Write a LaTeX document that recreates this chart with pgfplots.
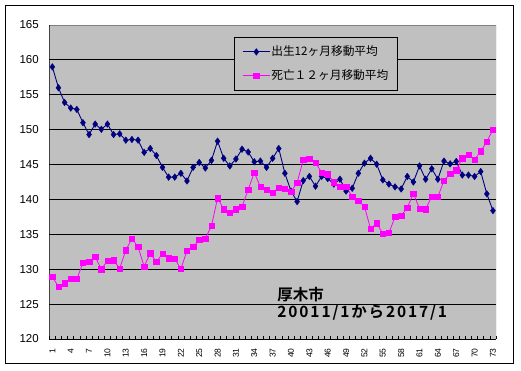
\documentclass[border=0pt]{standalone}
\usepackage{fontspec}
\setmainfont{Liberation Sans}
\newfontfamily\cjk{Noto Sans CJK JP}[BoldFont={Noto Sans CJK JP Bold}]
\newfontfamily\cjkwide{Noto Sans CJK JP Bold}[LetterSpace=12]
\usepackage{pgfplots}
\usepackage{pgfplotstable}
\pgfplotsset{compat=1.18}
\definecolor{plotgray}{HTML}{C0C0C0}
\definecolor{navyb}{HTML}{000080}
\definecolor{magp}{HTML}{FF00FF}
\pgfplotstableread{
x b d
1 159.0 128.9
2 156.0 127.5
3 153.9 128.0
4 153.1 128.6
5 152.9 128.6
6 151.0 130.9
7 149.3 131.1
8 150.8 131.8
9 150.05 130.0
10 150.8 131.2
11 149.3 131.3
12 149.4 130.1
13 148.5 132.7
14 148.6 134.4
15 148.5 133.2
16 146.75 130.4
17 147.3 132.3
18 146.3 131.05
19 144.6 132.25
20 143.2 131.6
21 143.2 131.5
22 143.75 130.05
23 142.65 132.65
24 144.6 133.2
25 145.3 134.2
26 144.5 134.4
27 145.6 136.2
28 148.35 140.2
29 145.9 138.6
30 144.8 138.1
31 145.8 138.6
32 147.2 139.0
33 146.8 141.4
34 145.4 143.85
35 145.5 141.8
36 144.6 141.4
37 145.9 141.0
38 147.3 141.7
39 143.75 141.55
40 141.2 141.1
41 139.7 142.4
42 142.7 145.7
43 143.3 145.8
44 141.9 145.3
45 143.3 143.85
46 143.0 143.6
47 142.2 142.5
48 142.9 141.8
49 141.2 141.8
50 141.6 140.4
51 143.75 139.8
52 145.2 139.0
53 145.9 135.8
54 145.05 136.6
55 142.8 135.1
56 142.2 135.2
57 141.8 137.5
58 141.5 137.7
59 143.3 138.8
60 142.5 140.85
61 144.8 138.7
62 142.9 138.6
63 144.4 140.4
64 142.9 140.4
65 145.5 142.7
66 145.1 143.7
67 145.45 144.2
68 143.5 145.9
69 143.5 146.45
70 143.3 145.7
71 144.0 146.9
72 140.8 148.3
73 138.4 150.0
}\datatable
\begin{document}
\begin{tikzpicture}[x=1pt,y=1pt]
\useasboundingbox (-49.3,-31) rectangle (471.7,339);
\draw[black, line width=0.8pt, fill=white] (-44.3,-24) rectangle (463.7,334);
\begin{axis}[
  at={(0,0)}, anchor=south west,
  scale only axis, width=446.7pt, height=314pt,
  xmin=0.5, xmax=73.5, ymin=120, ymax=165,
  ytick={120,125,...,165},
  xtick={1,4,...,73},
  minor xtick={0.5,1.5,...,73.5},
  tick pos=left,
  tick align=inside,
  major tick length=0pt,
  minor tick length=3.3pt,
  minor tick style={black, line width=0.6pt},
  ymajorgrids, grid style={black, line width=0.8pt},
  axis background/.style={fill=plotgray},
  axis line style={draw=none},
  /pgf/number format/assume math mode=true,
  yticklabel style={font=\fontsize{11.5}{12}\selectfont, xshift=-7pt},
  xticklabel style={font=\fontsize{8.5}{9}\selectfont, yshift=-6pt, rotate=90, anchor=east},
  legend style={at={(rel axis cs:0.4135,0.9618)}, anchor=north west,
    fill=plotgray, draw=black, line width=0.8pt,
    inner xsep=8pt, inner ysep=8pt, row sep=11pt,
    font=\cjk\fontsize{11.7}{13}\selectfont,
    nodes={inner sep=1pt, text height=9pt, text depth=2pt},
    cells={anchor=west}},
  legend image code/.code={\draw[mark repeat=2,mark phase=2,#1] plot coordinates {(0pt,0pt) (13.5pt,0pt) (27pt,0pt)};},
]
\addplot[navyb, line width=0.9pt, mark=diamond*, mark size=3.3pt, mark options={fill=navyb, draw=navyb, line width=0.4pt}] table[x=x, y=b] {\datatable};
\addlegendentry{出生12ヶ月移動平均}
\addplot[magp, line width=0.8pt, mark=square*, mark size=2.7pt, mark options={fill=magp, draw=magp, line width=0.4pt}] table[x=x, y=d] {\datatable};
\addlegendentry{死亡１２ヶ月移動平均}
\draw[gray, line width=0.8pt] (rel axis cs:0,1) -- (rel axis cs:1,1) -- (rel axis cs:1,0);
\draw[black, line width=0.8pt] (rel axis cs:0,1) -- (rel axis cs:0,0) -- (rel axis cs:1,0);
\node[anchor=west, inner sep=0pt, font=\cjk\bfseries\fontsize{15.5}{17}\selectfont] at (rel axis cs:0.5104,0.1417) {厚木市};
\node[anchor=west, inner sep=0pt, font=\cjkwide\fontsize{15.5}{17}\selectfont] at (rel axis cs:0.5104,0.0828) {20011/1から2017/1};
\end{axis}
\end{tikzpicture}
\end{document}
